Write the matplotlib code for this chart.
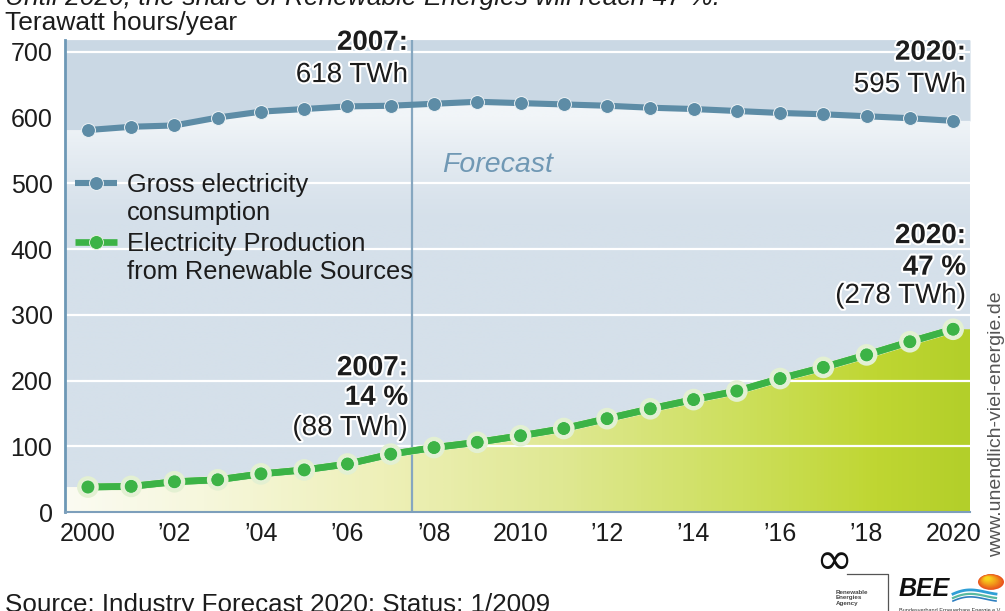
"""Gross electricity consumption vs. renewable production in Germany, 2000-2020."""

import numpy as np
import matplotlib
matplotlib.use("Agg")
import matplotlib.pyplot as plt
import matplotlib.patheffects as pe
from matplotlib.colors import LinearSegmentedColormap, to_rgb
from matplotlib.lines import Line2D
from matplotlib.patches import Circle

# ---------------------------------------------------------------------------
# Data (TWh/year)
# ---------------------------------------------------------------------------

YEARS = list(range(2000, 2021))
CONSUMPTION = [581, 586, 588, 600, 609, 613, 617, 618, 621, 624, 622, 620,
               618, 615, 613, 610, 607, 605, 602, 599, 595]
RENEWABLES = [38, 39, 46, 49, 58, 64, 73, 88, 98, 106, 116, 127,
              142, 157, 171, 184, 203, 220, 239, 259, 278]

X_TICKS = [2000, 2002, 2004, 2006, 2008, 2010, 2012, 2014, 2016, 2018, 2020]
X_LABELS = ["2000", "\u201902", "\u201904", "\u201906", "\u201908", "2010",
            "\u201912", "\u201914", "\u201916", "\u201918", "2020"]
Y_TICKS = [0, 100, 200, 300, 400, 500, 600, 700]
GRID_Y = [100, 200, 300, 400, 500, 700]
FORECAST_START = 2007.5
SHARE_2007 = 14
SHARE_2020 = 47

# ---------------------------------------------------------------------------
# Style
# ---------------------------------------------------------------------------

FONT = "Liberation Sans"
FS = 18
FS_NOTE = 20
TEXT = "#1c1c1c"
CONS_COLOR = "#5d8ca6"
RE_COLOR = "#3cb346"
BG_MID = "#d5e0ea"
BG_TOP = "#cad8e4"
BG_LIGHT = "#f1f5f8"
DIVIDER = "#86a7c0"
SPINE = "#6d98b6"

plt.rcParams["font.family"] = [FONT, "DejaVu Sans"]

W, H = 1005, 611
XLIM = (1999.47, 2020.39)
YLIM = (0, 718)


def fx(px):
    return px / W


def fy(py):
    return 1 - py / H


fig = plt.figure(figsize=(W / 100, H / 100), dpi=100)
fig.patch.set_facecolor("white")
ax = fig.add_axes([fx(65), fy(512), 905 / W, 472 / H])
ax.set_facecolor(BG_MID)

# extend series flat to the axes edges for the background fills
x_ext = np.array([XLIM[0]] + YEARS + [XLIM[1]], dtype=float)
cons_ext = np.array([CONSUMPTION[0]] + CONSUMPTION + [CONSUMPTION[-1]], dtype=float)
re_ext = np.array([RENEWABLES[0]] + RENEWABLES + [RENEWABLES[-1]], dtype=float)

# dark band above consumption
ax.fill_between(x_ext, cons_ext, YLIM[1], color=BG_TOP, linewidth=0, zorder=1)

# light haze just below consumption, fading downward
below = ax.fill_between(x_ext, 0, cons_ext, facecolor="none", linewidth=0)
ys = np.linspace(0, 650, 200)
t = np.clip((ys - 440) / (600 - 440), 0, 1) ** 1.3
c0, c1 = np.array(to_rgb(BG_MID)), np.array(to_rgb(BG_LIGHT))
grad = c0[None, :] * (1 - t[:, None]) + c1[None, :] * t[:, None]
img = ax.imshow(grad[:, None, :].repeat(2, axis=1), extent=[XLIM[0], XLIM[1], 0, 650],
                origin="lower", aspect="auto", zorder=1.5, interpolation="bilinear")
img.set_clip_path(below.get_paths()[0], transform=ax.transData)

# green fill under renewables, left-to-right gradient
green_cmap = LinearSegmentedColormap.from_list("re", [
    (0.0, "#fbfbf2"), (0.15, "#f6f7dc"), (0.35, "#eef0b8"), (0.55, "#dfe892"),
    (0.75, "#cddf5c"), (0.9, "#bfd632"), (1.0, "#b3cf2a")])
re_poly = ax.fill_between(x_ext, 0, re_ext, facecolor="none", linewidth=0)
gimg = ax.imshow(np.linspace(0, 1, 300)[None, :], cmap=green_cmap,
                 extent=[XLIM[0], XLIM[1], 0, 300], origin="lower", aspect="auto",
                 zorder=2, interpolation="bilinear")
gimg.set_clip_path(re_poly.get_paths()[0], transform=ax.transData)

for gy in GRID_Y:
    ax.axhline(gy, color="white", linewidth=1.6, zorder=3)

ax.axvline(FORECAST_START, color=DIVIDER, linewidth=1.6, zorder=3.5)

# series
CONS_STYLE = dict(color=CONS_COLOR, linewidth=4.4, marker="o", markersize=10,
                  markerfacecolor=CONS_COLOR, markeredgecolor="#eef3f6",
                  markeredgewidth=0.7, solid_capstyle="butt")
RE_STYLE = dict(color=RE_COLOR, linewidth=4.8, marker="o", markersize=10,
                markerfacecolor=RE_COLOR, markeredgecolor="#eef6e4",
                markeredgewidth=0.6, solid_capstyle="butt")
ax.plot(YEARS, CONSUMPTION, zorder=5, **CONS_STYLE)
ax.plot(YEARS, RENEWABLES, zorder=5,
        path_effects=[pe.withStroke(linewidth=5.6, foreground="#e3f0d2"), pe.Normal()],
        **RE_STYLE)

ax.set_xlim(*XLIM)
ax.set_ylim(*YLIM)
ax.set_xticks(X_TICKS)
ax.set_xticklabels(X_LABELS)
ax.set_yticks(Y_TICKS)
ax.tick_params(axis="both", length=0, labelsize=FS, labelcolor=TEXT)
ax.tick_params(axis="y", pad=9)
ax.tick_params(axis="x", pad=7)

for side in ("top", "right"):
    ax.spines[side].set_visible(False)
ax.spines["left"].set_color(SPINE)
ax.spines["left"].set_linewidth(2)
ax.spines["bottom"].set_color("#7d9fbb")
ax.spines["bottom"].set_linewidth(1.5)
for sp in ax.spines.values():
    sp.set_zorder(6)

# ---------------------------------------------------------------------------
# Annotations (baseline positions in data units)
# ---------------------------------------------------------------------------

halo = [pe.withStroke(linewidth=3, foreground="white")]


def note(x, y, s, bold=False):
    ax.text(x, y, s, fontsize=FS_NOTE, color=TEXT, ha="right", va="baseline",
            fontweight="bold" if bold else "normal", path_effects=halo,
            zorder=7)


i07 = YEARS.index(2007)
note(2007.40, 703, "2007:", bold=True)
note(2007.40, 654, f"{CONSUMPTION[i07]} TWh")
note(2020.30, 688, "2020:", bold=True)
note(2020.30, 639, f"{CONSUMPTION[-1]} TWh")

note(2007.40, 208, "2007:", bold=True)
note(2007.40, 163, f"{SHARE_2007} %", bold=True)
note(2007.40, 117, f"({RENEWABLES[i07]} TWh)")
note(2020.30, 409, "2020:", bold=True)
note(2020.30, 361, f"{SHARE_2020} %", bold=True)
note(2020.30, 318, f"({RENEWABLES[-1]} TWh)")

ax.text(2008.19, 517, "Forecast", fontsize=20.5, color="#7098b4", style="italic",
        ha="left", va="baseline", zorder=7)

# legend: sample segment with a dot, label on two lines
LEGEND = [
    (CONS_STYLE, 183, ["Gross electricity", "consumption"]),
    (RE_STYLE, 242, ["Electricity Production", "from Renewable Sources"]),
]
for style, y0, lines in LEGEND:
    fig.add_artist(Line2D([fx(75), fx(96), fx(117)], [fy(y0)] * 3,
                          transform=fig.transFigure, markevery=[1], **style))
    for k, line in enumerate(lines):
        fig.text(fx(127), fy(y0 + 9 + 28.5 * k), line, fontsize=18.3, color=TEXT,
                 ha="left", va="baseline")

# ---------------------------------------------------------------------------
# Header, footer, credits
# ---------------------------------------------------------------------------

fig.text(fx(5), fy(5),
         "Until 2020, the share of Renewable Energies will reach 47 %.",
         fontsize=19, style="italic", color=TEXT, ha="left", va="baseline")
fig.text(fx(5), fy(30), "Terawatt hours/year", fontsize=19,
         color=TEXT, ha="left", va="baseline")
fig.text(fx(5), fy(612),
         "Source: Industry Forecast 2020; Status: 1/2009", fontsize=18.7,
         color=TEXT, ha="left", va="baseline")
fig.text(fx(997), fy(424), "www.unendlich-viel-energie.de",
         fontsize=14, color="#555555", rotation=90, ha="center", va="center")

# agency logos
fig.add_artist(Line2D([fx(847), fx(888), fx(888)], [fy(574), fy(574), fy(612)],
                      transform=fig.transFigure, color="#555555", linewidth=0.9))
fig.text(fx(834), fy(574), "\u221e", fontsize=32, color="#111111",
         ha="center", va="baseline", family="DejaVu Sans")
fig.text(fx(836), fy(598), "Renewable\nEnergies\nAgency", fontsize=4.5,
         fontweight="bold", color="#444444", ha="left", va="center",
         linespacing=1.1)
fig.text(fx(899), fy(596), "BEE", fontsize=18, fontweight="bold",
         style="italic", color="#111111", ha="left", va="baseline")
sun_cmap = LinearSegmentedColormap.from_list("sun", ["#e9531d", "#f29a1a", "#f7d41c"])
for i, r in enumerate(np.linspace(13, 3, 10)):
    off = (13 - r) * 0.35
    fig.add_artist(Circle((fx(991 - off), fy(582 - off)), r / W,
                          transform=fig.transFigure,
                          color=sun_cmap(i / 9), linewidth=0))
wave_x = np.linspace(953, 996, 40)
wave_y = 596 - 6 * np.sin((wave_x - 953) / 43 * np.pi) * np.linspace(1, 0.3, 40)
fig.add_artist(Line2D(fx(wave_x), fy(wave_y - 2), transform=fig.transFigure,
                      color="#2f9fd6", linewidth=2.0))
fig.add_artist(Line2D(fx(wave_x), fy(wave_y + 2), transform=fig.transFigure,
                      color="#5ab9a0", linewidth=1.6))
fig.add_artist(Line2D(fx(wave_x), fy(wave_y + 5), transform=fig.transFigure,
                      color="#2e7fc0", linewidth=1.2))
fig.text(fx(899), fy(612), "Bundesverband Erneuerbare Energie e.V.",
         fontsize=4, color="#333333", ha="left", va="baseline")

fig.savefig("out.png", dpi=100, facecolor=fig.get_facecolor())
